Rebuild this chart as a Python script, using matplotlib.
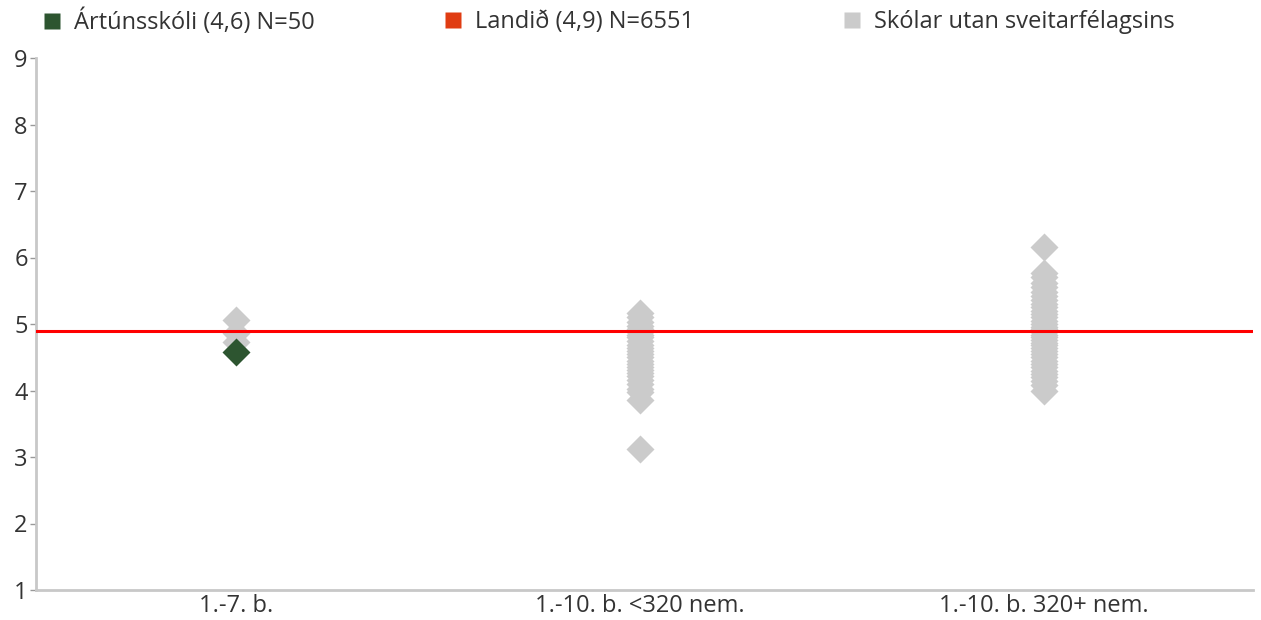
import numpy as np
import matplotlib

matplotlib.use("Agg")
import matplotlib.pyplot as plt
from matplotlib.lines import Line2D

# ---- data -------------------------------------------------------------------
categories = ["1.-7. b.", "1.-10. b. <320 nem.", "1.-10. b. 320+ nem."]

# other schools (grey diamonds), one list per category
others_g1 = [5.06, 4.86, 4.73]
others_g2 = [5.17, 5.10, 5.03, 4.97, 4.92, 4.88, 4.84, 4.80, 4.74, 4.69, 4.64,
             4.60, 4.55, 4.50, 4.45, 4.40, 4.36, 4.31, 4.27, 4.22, 4.16, 4.10,
             4.03, 3.97, 3.86, 3.12]
others_g3 = [6.16, 5.77, 5.70, 5.62, 5.55, 5.48, 5.42, 5.36, 5.30, 5.25, 5.20,
             5.15, 5.10, 5.05, 5.00, 4.96, 4.92, 4.88, 4.84, 4.80, 4.76, 4.72,
             4.68, 4.64, 4.60, 4.55, 4.50, 4.45, 4.40, 4.35, 4.30, 4.25, 4.20,
             4.14, 4.08, 4.00]

school_cat = 0
school_val = 4.58
national_val = 4.9

school_label = "Ártúnsskóli (4,6) N=50"
national_label = "Landið (4,9) N=6551"
others_label = "Skólar utan sveitarfélagsins"

# ---- style ------------------------------------------------------------------
GREEN = "#2d5530"
RED_LEG = "#e03c12"
LINE_RED = "#ff0000"
GREY = "#cbcbcb"
AXIS = "#c8c8c8"
TEXT = "#333333"
FS = 17

plt.rcParams["font.family"] = ["Open Sans", "DejaVu Sans"]

fig = plt.figure(figsize=(12.61, 6.20), dpi=100)
ax = fig.add_axes([36 / 1261, 1 - 590 / 620, (1253 - 36) / 1261, (590 - 58) / 620])

for i, vals in enumerate([others_g1, others_g2, others_g3]):
    ax.plot([i] * len(vals), vals, ls="none", marker="D", ms=14.5,
            mfc=GREY, mec="none", zorder=2)

ax.axhline(national_val, color=LINE_RED, lw=2.2, zorder=3)

ax.plot([school_cat], [school_val], ls="none", marker="D", ms=14.5,
        mfc=GREEN, mec="none", zorder=4)

ax.set_xlim(-0.495, 2.517)
ax.set_ylim(1, 9)
ax.set_yticks(range(1, 10))
ax.set_xticks(range(len(categories)))
ax.set_xticklabels(categories)

for side in ("top", "right"):
    ax.spines[side].set_visible(False)
for side in ("left", "bottom"):
    ax.spines[side].set_color(AXIS)
    ax.spines[side].set_linewidth(2)
ax.tick_params(axis="y", colors="#999999", labelcolor=TEXT, labelsize=FS,
               length=4, width=1, pad=2)
ax.tick_params(axis="x", length=0, labelcolor=TEXT, labelsize=FS, pad=3)

# ---- legend -----------------------------------------------------------------
for x, col, lab in [(42, GREEN, school_label), (443, RED_LEG, national_label),
                    (842, GREY, others_label)]:
    h = Line2D([], [], ls="none", marker="s", ms=11, mfc=col, mec="none")
    fig.legend(handles=[h], labels=[lab], loc="center left",
               bbox_to_anchor=(x / 1261, 1 - 22 / 620), frameon=False,
               fontsize=FS, handlelength=0.85, handletextpad=0.5,
               labelcolor=TEXT, borderpad=0, borderaxespad=0)

fig.savefig("out.png", dpi=100)
